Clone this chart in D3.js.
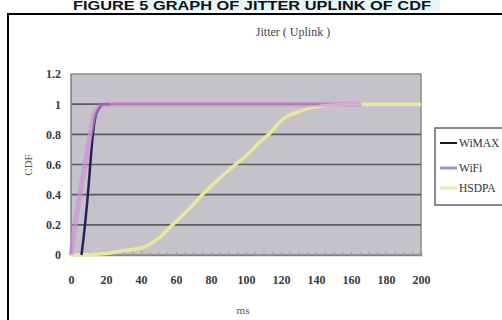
<!DOCTYPE html>
<html><head><meta charset="utf-8">
<script src="https://cdn.jsdelivr.net/npm/d3@7"></script>
<style>body{margin:0;background:#fff;overflow:hidden}</style>
</head><body>
<svg id="c" width="502" height="320"></svg>
<script>
const headerText = "FIGURE 5 GRAPH OF JITTER UPLINK OF CDF";
const chartTitle = "Jitter ( Uplink )";
const xLabel = "ms";
const yLabel = "CDF";
const msTicks = [0,20,40,60,80,100,120,140,160,180,200];
const cdfTicks = [0,0.2,0.4,0.6,0.8,1,1.2];
const seriesNames = ["WiMAX","WiFi","HSDPA"];
const wimaxMs  = [6, 8, 10, 11, 12.5, 14, 16, 18, 22];
const wimaxCdf = [0, 0.2, 0.45, 0.6, 0.8, 0.92, 0.97, 1, 1];
const wifiMs   = [0, 2.3, 5, 8, 11, 13, 16, 20, 60, 100, 140, 166];
const wifiCdf  = [0, 0.2, 0.4, 0.6, 0.8, 0.92, 0.98, 1, 1, 1, 1, 1];
const hsdpaMs  = [0, 20, 30, 41, 50, 58, 67, 75, 84, 94, 102, 108, 113, 121, 130, 144, 160, 180, 200];
const hsdpaCdf = [0, 0.01, 0.03, 0.05, 0.11, 0.2, 0.3, 0.4, 0.5, 0.6, 0.68, 0.75, 0.8, 0.9, 0.95, 0.99, 1, 1, 1];

const svg = d3.select("#c");
const x = d3.scaleLinear().domain([0,200]).range([71,421]);
const y = d3.scaleLinear().domain([0,1.2]).range([255,74]);

// header
svg.append("rect").attr("x",140).attr("y",0).attr("width",300).attr("height",11).attr("fill","#e6f7fb");
svg.append("text").attr("x",252).attr("y",10).attr("text-anchor","middle")
  .attr("font-family","Liberation Sans, Arial, sans-serif").attr("font-weight","bold")
  .attr("font-size",12).attr("textLength",358).attr("lengthAdjust","spacingAndGlyphs")
  .attr("fill","#111").text(headerText);
// frame
svg.append("rect").attr("x",8).attr("y",14).attr("width",510).attr("height",320)
  .attr("fill","none").attr("stroke","#000").attr("stroke-width",2);

const serif = "Liberation Serif, Times New Roman, serif";
svg.append("text").attr("x",293).attr("y",36).attr("text-anchor","middle")
  .attr("font-family",serif).attr("font-size",12).attr("fill","#444").text(chartTitle);

// plot area
svg.append("rect").attr("x",x(0)).attr("y",y(1.2)).attr("width",x(200)-x(0)).attr("height",y(0)-y(1.2))
  .attr("fill","#c6c2c9").attr("stroke","#8a8a8a").attr("stroke-width",1.5);

// gridlines
svg.append("g").selectAll("line").data(cdfTicks.filter(d=>d>0 && d<1.2)).join("line")
  .attr("x1",x(0)).attr("x2",x(200)).attr("y1",d=>y(d)).attr("y2",d=>y(d))
  .attr("stroke","#5f5c61").attr("stroke-width",1.6);

// axes
const yAxis = d3.axisLeft(y).tickValues(cdfTicks).tickFormat(d=>d3.format("~g")(d)).tickSize(0).tickPadding(10);
const gy = svg.append("g").attr("transform",`translate(${x(0)},0)`).call(yAxis);
gy.select(".domain").attr("stroke","#888");
gy.selectAll("text").attr("font-family",serif).attr("font-size",12).attr("font-weight","bold").attr("fill","#3a3a3a");

const xAxis = d3.axisBottom(x).tickValues(d3.range(0,201,5)).tickSize(-3).tickFormat("");
const gx = svg.append("g").attr("transform",`translate(0,${y(0)})`).call(xAxis);
gx.select(".domain").attr("stroke","#888").attr("stroke-width",1.5);
gx.selectAll(".tick line").attr("stroke","#999");
const gx2 = svg.append("g").attr("transform",`translate(0,${y(0)})`)
  .call(d3.axisBottom(x).tickValues(msTicks).tickSize(0).tickPadding(20));
gx2.select(".domain").remove();
gx2.selectAll("text").attr("font-family",serif).attr("font-size",12).attr("font-weight","bold").attr("fill","#3a3a3a");

svg.append("text").attr("x",243).attr("y",314).attr("text-anchor","middle")
  .attr("font-family",serif).attr("font-size",11).attr("fill","#555").text(xLabel);
svg.append("text").attr("transform","translate(32,165) rotate(-90)").attr("text-anchor","middle")
  .attr("font-family",serif).attr("font-size",11).attr("fill","#555").text(yLabel);

// series
const line = d3.line().x(d=>x(d[0])).y(d=>y(d[1])).curve(d3.curveMonotoneX);
const zip = (a,b)=>a.map((v,i)=>[v,b[i]]);
svg.append("path").datum(zip(hsdpaMs,hsdpaCdf)).attr("d",line)
  .attr("fill","none").attr("stroke","#e6eb9c").attr("stroke-width",3.5);
svg.append("path").datum(zip(wimaxMs,wimaxCdf)).attr("d",line)
  .attr("fill","none").attr("stroke","#2a1f5c").attr("stroke-width",2.5);
svg.append("path").datum(zip(wifiMs,wifiCdf)).attr("d",line)
  .attr("fill","none").attr("stroke","#d08ed8").attr("stroke-width",5).attr("stroke-opacity",0.65);

// legend
const lg = svg.append("g");
lg.append("rect").attr("x",435).attr("y",128).attr("width",80).attr("height",77)
  .attr("fill","#fff").attr("stroke","#666").attr("stroke-width",1.5);
const lcol = ["#1a1a1a","#a98fd2","#e6eea8"];
const ly = [143,168,188];
seriesNames.forEach((n,i)=>{
  lg.append("line").attr("x1",440).attr("x2",457).attr("y1",ly[i]).attr("y2",ly[i])
    .attr("stroke",lcol[i]).attr("stroke-width",i===0?2:3);
  lg.append("text").attr("x",459).attr("y",ly[i]+4).attr("font-family",serif)
    .attr("font-size",11.5).attr("fill","#333").text(n);
});
</script>
</body></html>
